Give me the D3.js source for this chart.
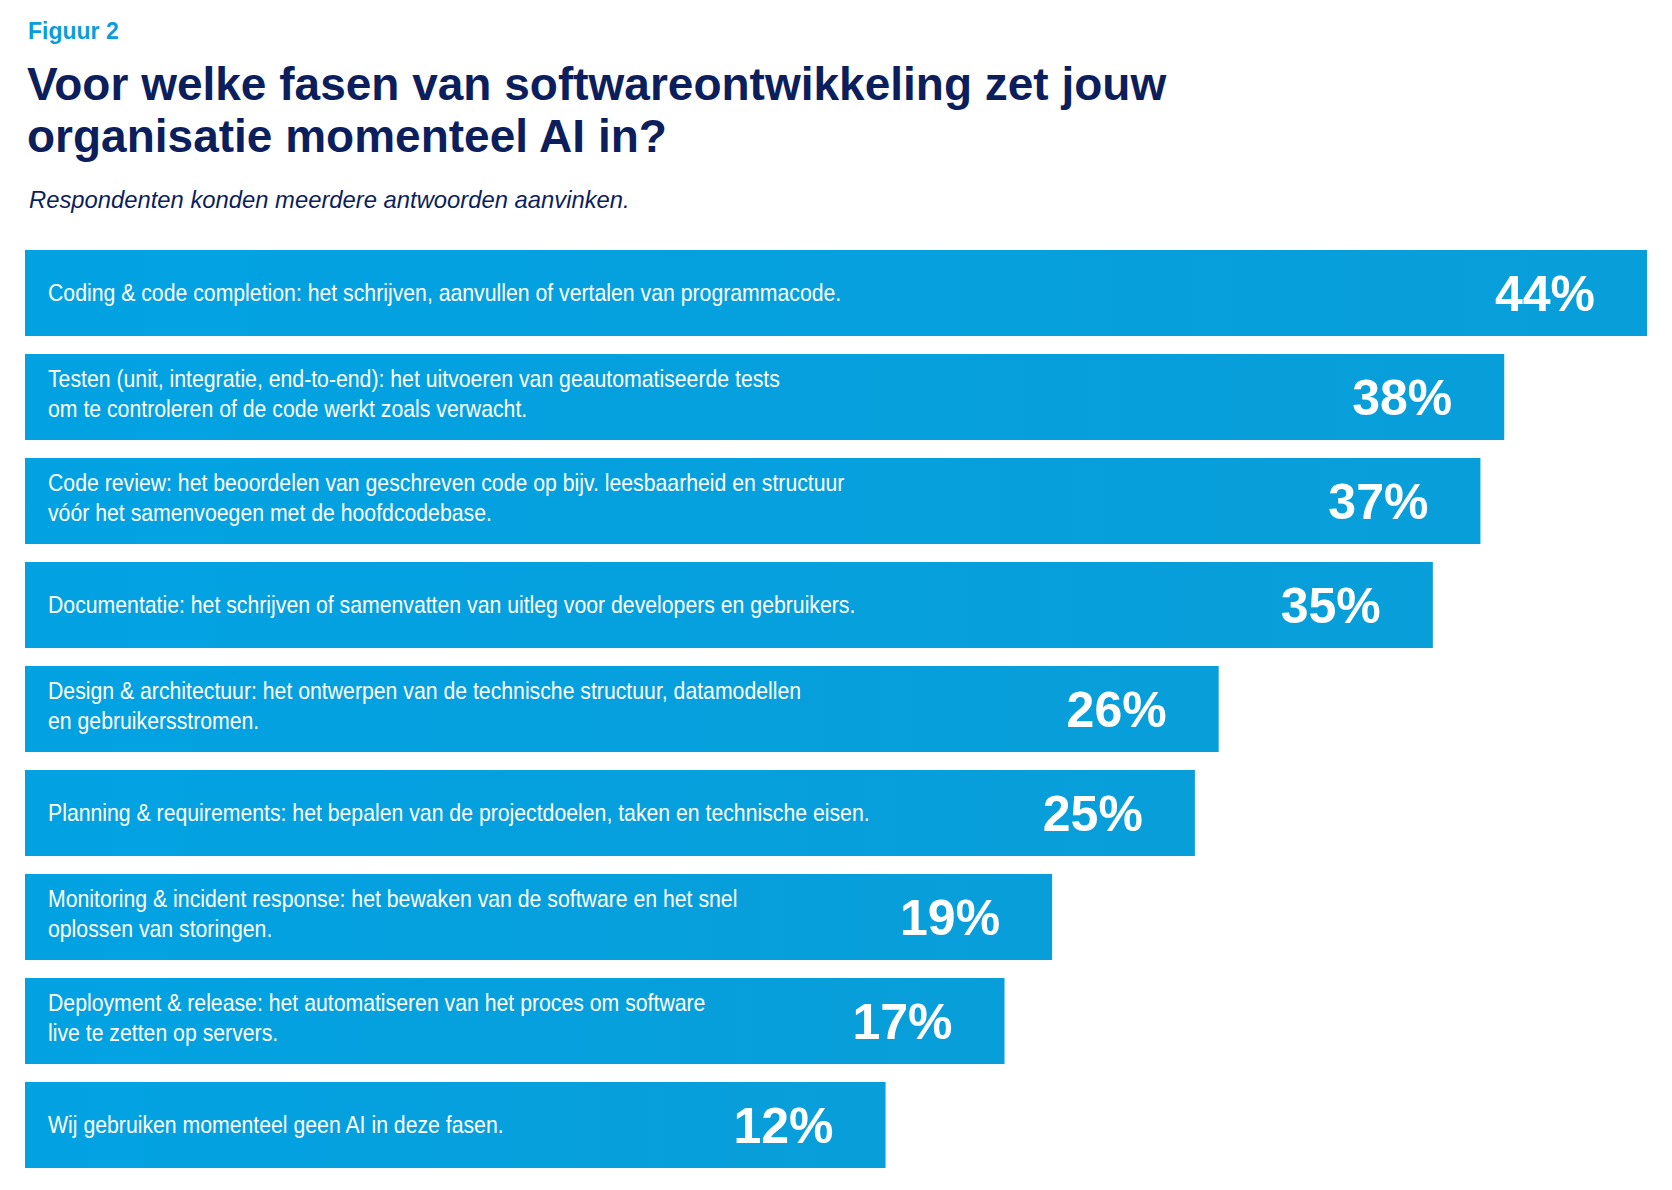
<!DOCTYPE html>
<html lang="nl">

<head>
  <meta charset="UTF-8">
  <title>Figuur 2</title>
  <script src="https://d3js.org/d3.v7.min.js"></script>
  <style>
    body {
      margin: 0;
      background: #fff;
    }

    svg text {
      font-family: "Liberation Sans", Arial, Helvetica, sans-serif;
    }
  </style>
</head>

<body>
  <div id="chart"></div>

  <script>
    // categorieën (regels per label)
    const categories = [
      ["Coding & code completion: het schrijven, aanvullen of vertalen van programmacode."],
      ["Testen (unit, integratie, end-to-end): het uitvoeren van geautomatiseerde tests",
        "om te controleren of de code werkt zoals verwacht."],
      ["Code review: het beoordelen van geschreven code op bijv. leesbaarheid en structuur",
        "vóór het samenvoegen met de hoofdcodebase."],
      ["Documentatie: het schrijven of samenvatten van uitleg voor developers en gebruikers."],
      ["Design & architectuur: het ontwerpen van de technische structuur, datamodellen",
        "en gebruikersstromen."],
      ["Planning & requirements: het bepalen van de projectdoelen, taken en technische eisen."],
      ["Monitoring & incident response: het bewaken van de software en het snel",
        "oplossen van storingen."],
      ["Deployment & release: het automatiseren van het proces om software",
        "live te zetten op servers."],
      ["Wij gebruiken momenteel geen AI in deze fasen."]
    ]

    const values = [44, 38, 37, 35, 26, 25, 19, 17, 12]

    const width = 1672
    const height = 1190
    const left = 25

    const svg = d3.select('#chart')
      .append('svg')
      .attr('width', width)
      .attr('height', height)

    // lichte gradient in de balken
    const grad = svg.append('defs').append('linearGradient')
      .attr('id', 'barGrad')
      .attr('x1', '0%').attr('x2', '100%')
    grad.append('stop').attr('offset', '0%').attr('stop-color', '#02a2e2')
    grad.append('stop').attr('offset', '100%').attr('stop-color', '#089ed9')

    // titels
    svg.append('text')
      .attr('x', 28).attr('y', 39)
      .style('font-size', '23px').style('font-weight', 'bold')
      .style('fill', '#0a9ddb')
      .text('Figuur 2')

    const title = ['Voor welke fasen van softwareontwikkeling zet jouw', 'organisatie momenteel AI in?']
    svg.append('text')
      .attr('x', 27).attr('y', 100)
      .style('font-size', '46px').style('font-weight', 'bold')
      .style('fill', '#0c1f5c')
      .selectAll('tspan')
      .data(title)
      .join('tspan')
      .attr('x', 27)
      .attr('dy', (d, i) => i ? 52 : 0)
      .text(d => d)

    svg.append('text')
      .attr('x', 29).attr('y', 208)
      .style('font-size', '23.8px').style('font-style', 'italic')
      .style('fill', '#0c1f5c')
      .text('Respondenten konden meerdere antwoorden aanvinken.')

    // schalen
    const barH = 86
    const gap = 18
    const y = d3.scaleBand()
      .domain(d3.range(values.length))
      .range([250, 250 + (barH + gap) * values.length - gap])
      .paddingInner(gap / (barH + gap))
      .paddingOuter(0)

    const x = d3.scaleLinear()
      .domain([0, d3.max(values)])
      .range([575, 1622])

    const rows = svg.selectAll('g.row')
      .data(values)
      .join('g')
      .attr('class', 'row')
      .attr('transform', (d, i) => `translate(${left},${y(i)})`)

    rows.append('rect')
      .attr('width', d => x(d))
      .attr('height', y.bandwidth())
      .attr('fill', 'url(#barGrad)')

    // smalle labeltekst (condensed)
    rows.append('text')
      .attr('transform', 'translate(23,0) scale(0.885,1)')
      .style('font-size', '24px')
      .style('fill', '#fff')
      .each(function (d, i) {
        const lines = categories[i]
        const cy = y.bandwidth() / 2
        const start = lines.length === 1 ? cy + 8 : cy - 10
        d3.select(this).selectAll('tspan')
          .data(lines)
          .join('tspan')
          .attr('x', 0)
          .attr('y', (l, j) => start + j * 30)
          .text(l => l)
      })

    rows.append('text')
      .attr('x', d => x(d) - 52)
      .attr('y', 61)
      .attr('text-anchor', 'end')
      .style('font-size', '50px')
      .style('font-weight', 'bold')
      .style('fill', '#fff')
      .text(d => d + '%')
  </script>
</body>

</html>
